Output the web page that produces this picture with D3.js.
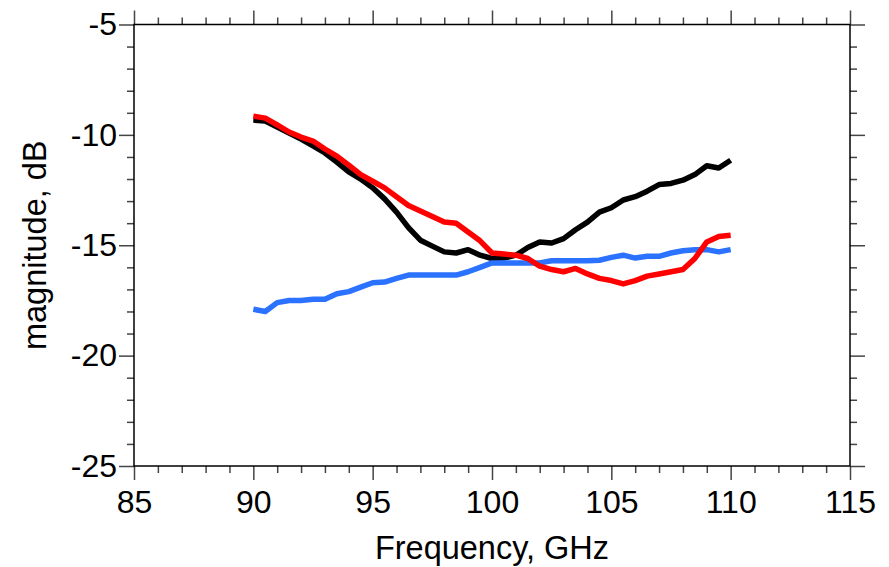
<!DOCTYPE html>
<html>
<head>
<meta charset="utf-8">
<script src="https://cdn.jsdelivr.net/npm/d3@7"></script>
<style>
  body { margin: 0; background: #fff; }
  text { font-family: "Liberation Sans", Arial, sans-serif; fill: #000; }
</style>
</head>
<body>
<div id="chart"></div>
<script>
// frequency points, GHz (90 to 110 in 0.5 steps)
const freq = d3.range(90, 110.01, 0.5);

// magnitude, dB
const black = [-9.33, -9.37, -9.64, -9.92, -10.19, -10.5, -10.82, -11.23, -11.68, -12.0,
  -12.4, -12.9, -13.5, -14.2, -14.77, -15.04, -15.3, -15.35, -15.2, -15.45,
  -15.6, -15.58, -15.45, -15.1, -14.85, -14.9, -14.7, -14.3, -13.95, -13.5,
  -13.3, -12.95, -12.8, -12.55, -12.25, -12.2, -12.05, -11.8, -11.4, -11.5, -11.15];
const red = [-9.15, -9.24, -9.55, -9.87, -10.1, -10.28, -10.64, -10.96, -11.37, -11.8,
  -12.1, -12.4, -12.8, -13.2, -13.45, -13.7, -13.95, -14.0, -14.4, -14.8,
  -15.35, -15.4, -15.45, -15.6, -15.95, -16.1, -16.2, -16.05, -16.3, -16.5,
  -16.6, -16.75, -16.6, -16.4, -16.3, -16.2, -16.1, -15.6, -14.85, -14.6, -14.55];
const blue = [-17.9, -18.0, -17.6, -17.5, -17.5, -17.45, -17.45, -17.2, -17.1, -16.9,
  -16.7, -16.67, -16.5, -16.35, -16.35, -16.35, -16.35, -16.35, -16.2, -16.0,
  -15.8, -15.8, -15.8, -15.8, -15.8, -15.7, -15.7, -15.7, -15.7, -15.68,
  -15.55, -15.45, -15.58, -15.5, -15.5, -15.35, -15.25, -15.2, -15.2, -15.3, -15.2];

const xTicks = [85, 90, 95, 100, 105, 110, 115];
const yTicks = [-5, -10, -15, -20, -25];

const series = [
  { name: "black", values: black, color: "#000000" },
  { name: "blue", values: blue, color: "#2a72ff" },
  { name: "red", values: red, color: "#ff0000" }
];

const W = 889, H = 567;
const plot = { left: 134, right: 850, top: 24.5, bottom: 466 };

const svg = d3.select("#chart").append("svg")
  .attr("width", W)
  .attr("height", H);

svg.append("rect").attr("width", W).attr("height", H).attr("fill", "#fff");

const x = d3.scaleLinear().domain([85, 115]).range([plot.left, plot.right]);
const y = d3.scaleLinear().domain([-25, -5]).range([plot.bottom, plot.top]);

const minorX = d3.range(85, 115.01, 1).filter(d => !xTicks.includes(d));
const minorY = d3.range(-25, -4.99, 1).filter(d => !yTicks.includes(Math.round(d)));

// minor ticks (no labels)
function minorAxis(axis, vals) {
  return axis.tickValues(vals).tickSize(7).tickFormat("");
}
svg.append("g").attr("transform", `translate(0,${plot.bottom})`)
  .call(minorAxis(d3.axisBottom(x), minorX));
svg.append("g").attr("transform", `translate(0,${plot.top})`)
  .call(minorAxis(d3.axisTop(x), minorX));
svg.append("g").attr("transform", `translate(${plot.left},0)`)
  .call(minorAxis(d3.axisLeft(y), minorY));
svg.append("g").attr("transform", `translate(${plot.right},0)`)
  .call(minorAxis(d3.axisRight(y), minorY));

// major ticks
const xb = svg.append("g").attr("class", "axis").attr("transform", `translate(0,${plot.bottom})`)
  .call(d3.axisBottom(x).tickValues(xTicks).tickSize(14).tickPadding(9).tickFormat(d3.format("d")));
svg.append("g").attr("transform", `translate(0,${plot.top})`)
  .call(d3.axisTop(x).tickValues(xTicks).tickSize(14).tickFormat(""));
const yl = svg.append("g").attr("class", "axis").attr("transform", `translate(${plot.left},0)`)
  .call(d3.axisLeft(y).tickValues(yTicks).tickSize(15).tickPadding(2).tickFormat(d3.format("d")));
svg.append("g").attr("transform", `translate(${plot.right},0)`)
  .call(d3.axisRight(y).tickValues(yTicks).tickSize(15).tickFormat(""));

svg.selectAll(".domain").remove();
svg.selectAll(".tick line").attr("stroke", "#444").attr("stroke-width", 1.5);
svg.selectAll(".axis text").style("font-size", "32px").attr("fill", "#000");
xb.selectAll("text").attr("dy", "0.75em");
yl.selectAll("text").text(d => d < 0 ? "-" + Math.abs(d) : d);

// frame
svg.append("rect")
  .attr("x", plot.left).attr("y", plot.top)
  .attr("width", plot.right - plot.left).attr("height", plot.bottom - plot.top)
  .attr("fill", "none").attr("stroke", "#000").attr("stroke-width", 1.5);

// data lines
const line = d3.line()
  .x((d, i) => x(freq[i]))
  .y(d => y(d));

series.forEach(s => {
  svg.append("path")
    .datum(s.values)
    .attr("fill", "none")
    .attr("stroke", s.color)
    .attr("stroke-width", 5.5)
    .attr("stroke-linejoin", "round")
    .attr("d", line);
});

// axis titles
svg.append("text")
  .attr("x", (plot.left + plot.right) / 2)
  .attr("y", 559)
  .attr("text-anchor", "middle")
  .style("font-size", "32.5px")
  .text("Frequency, GHz");

svg.append("text")
  .attr("transform", `translate(46,${(plot.top + plot.bottom) / 2}) rotate(-90)`)
  .attr("text-anchor", "middle")
  .style("font-size", "32.5px")
  .text("magnitude, dB");
</script>
</body>
</html>
